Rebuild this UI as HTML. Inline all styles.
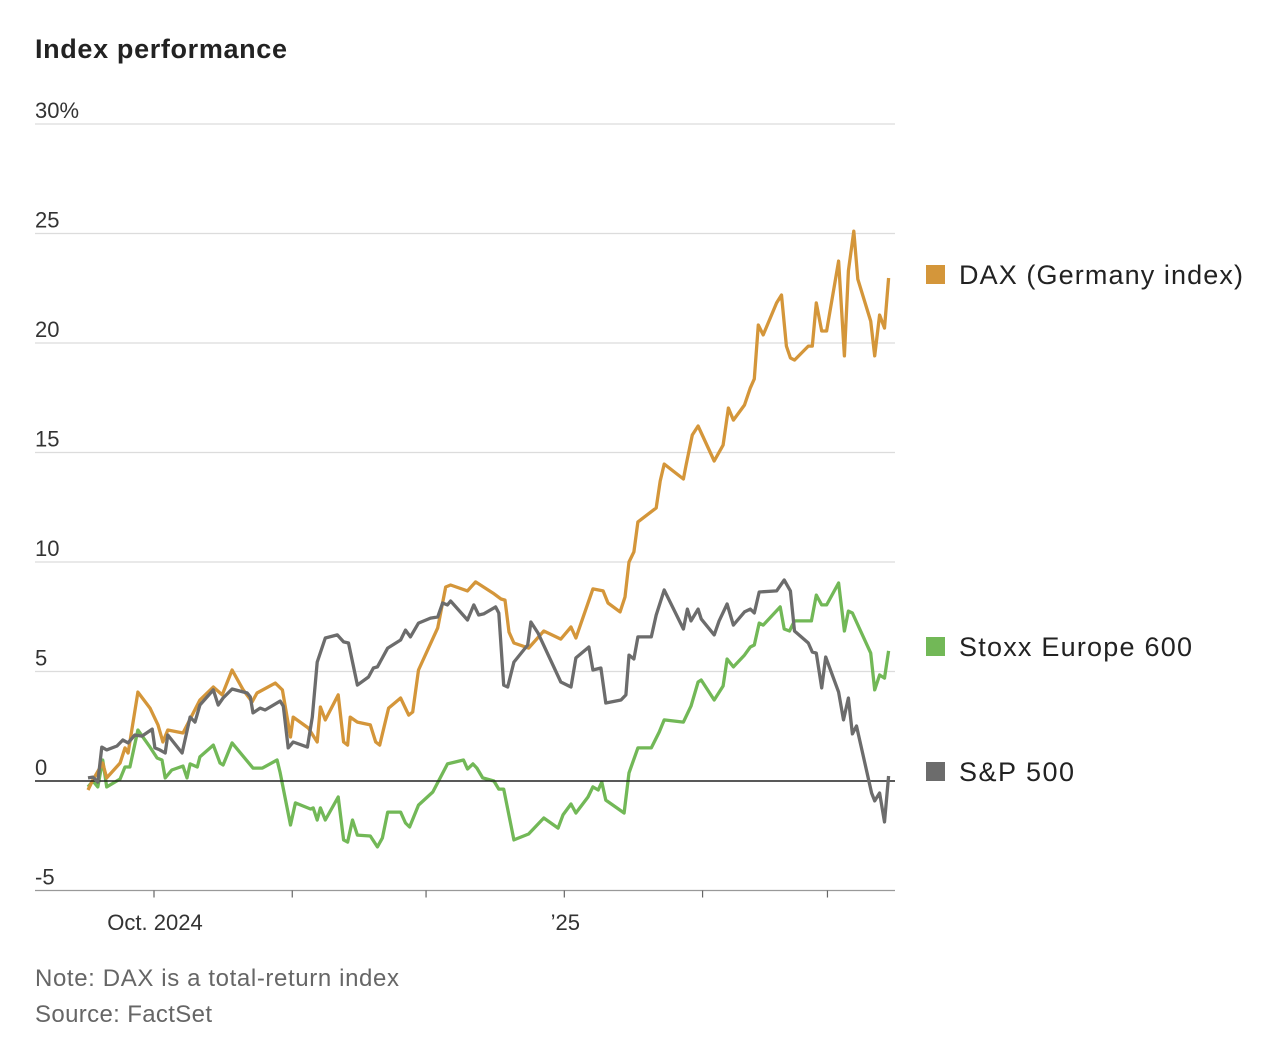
<!DOCTYPE html>
<html><head><meta charset="utf-8"><style>
body{margin:0;background:#fff;width:1276px;height:1050px;overflow:hidden;font-family:"Liberation Sans",sans-serif}
svg{position:absolute;left:0;top:0}
</style></head><body>
<svg id="c" width="1276" height="1050">
<text x="35" y="58" font-size="27" font-weight="bold" fill="#222" textLength="252">Index performance</text>
<g id="grid"></g><g id="lines"></g><g id="legend"></g>
<text x="35" y="986" font-size="24" fill="#666" textLength="364">Note: DAX is a total-return index</text>
<text x="35" y="1022" font-size="24" fill="#666" textLength="177">Source: FactSet</text>
</svg>
<script>
const yTicks=[-5,0,5,10,15,20,25,30];
const yTickLabels=["-5","0","5","10","15","20","25","30%"];
const xTickDays=[0,31,61,92,123,151];
const xTickLabels={0:"Oct. 2024",92:"\u201925"};
const daxDays=[-14.8,-13.7,-11.5,-10.6,-7.6,-6.5,-5.8,-3.6,-0.9,0.9,2.0,3.1,6.5,10.3,13.3,15.3,17.5,20.0,22.0,23.1,27.2,28.8,30.6,31.2,34.6,36.6,37.3,38.4,41.3,42.5,43.4,44.0,45.6,48.5,49.7,50.6,52.6,55.3,57.1,58.0,59.3,63.6,65.4,66.5,70.3,72.1,76.0,77.8,78.7,79.6,80.7,84.0,87.4,91.2,93.5,94.6,98.4,100.7,101.8,104.5,105.6,106.5,107.6,108.5,112.6,113.5,114.4,118.7,119.3,120.7,122.0,125.6,127.6,128.8,129.9,132.4,133.7,134.6,135.5,136.6,139.6,140.7,141.8,142.7,143.6,146.7,147.6,148.5,149.7,150.8,153.5,154.8,155.7,156.9,157.8,160.7,161.6,162.7,163.8,164.7];
const daxVals=[-0.41,0.05,0.82,0.14,0.82,1.51,1.28,4.06,3.33,2.56,1.78,2.33,2.19,3.70,4.29,3.93,5.07,4.16,3.61,4.02,4.47,4.16,2.01,2.92,2.42,1.78,3.38,2.79,3.93,1.78,1.64,2.92,2.69,2.56,1.78,1.64,3.33,3.79,3.01,3.15,5.07,6.99,8.86,8.95,8.68,9.09,8.58,8.31,8.26,6.80,6.30,6.07,6.85,6.48,7.03,6.53,8.77,8.68,8.13,7.72,8.40,10.0,10.46,11.83,12.47,13.70,14.47,13.79,14.43,15.80,16.21,14.61,15.34,17.03,16.48,17.17,17.95,18.36,20.82,20.37,21.83,22.19,19.86,19.32,19.22,19.86,19.86,21.83,20.55,20.55,23.74,19.41,23.29,25.11,22.92,21.00,19.41,21.28,20.68,22.97];
const spDays=[-14.8,-13.7,-12.6,-11.7,-10.6,-8.3,-7.0,-5.8,-4.3,-2.7,-0.4,0.2,1.3,2.5,3.1,6.3,8.1,9.2,10.3,13.3,14.4,15.5,17.5,20.9,21.6,22.2,23.8,24.9,28.3,29.0,30.1,31.2,34.4,35.5,36.6,38.4,41.1,42.5,43.6,45.6,48.1,49.2,50.1,52.4,55.3,56.4,57.5,59.3,62.0,63.6,64.7,65.8,66.5,70.3,71.7,72.8,73.9,76.6,77.3,78.4,79.3,80.7,83.8,84.5,86.1,91.2,93.5,94.6,97.5,98.4,100.2,101.3,104.7,105.8,106.5,107.6,108.5,111.5,112.6,114.4,118.7,119.6,120.4,122.0,122.7,125.6,126.7,128.5,129.9,132.4,133.7,134.6,135.7,139.6,141.3,142.7,143.6,146.7,147.6,148.5,149.7,150.6,153.5,154.6,155.7,156.6,157.5,160.9,161.6,162.7,163.8,164.7];
const spVals=[0.14,0.18,-0.05,1.55,1.42,1.60,1.87,1.74,2.10,2.05,2.37,1.51,1.42,1.28,2.10,1.28,2.92,2.69,3.47,4.16,3.47,3.79,4.20,4.02,3.84,3.11,3.33,3.24,3.65,3.42,1.51,1.78,1.55,2.92,5.43,6.53,6.67,6.35,6.30,4.38,4.75,5.16,5.21,6.07,6.44,6.89,6.58,7.21,7.44,7.49,8.13,8.04,8.22,7.35,8.04,7.58,7.63,7.95,7.67,4.38,4.29,5.43,6.21,7.26,6.76,4.52,4.29,5.62,6.12,5.07,5.16,3.56,3.70,3.93,5.75,5.57,6.58,6.58,7.58,8.72,6.94,7.85,7.31,7.85,7.40,6.67,7.31,8.08,7.12,7.72,7.85,7.67,8.63,8.68,9.18,8.68,6.85,6.30,5.89,5.84,4.25,5.66,4.06,2.79,3.79,2.15,2.51,-0.55,-0.91,-0.55,-1.87,0.23];
const stoxxDays=[-14.8,-13.7,-12.6,-11.5,-10.6,-7.6,-6.5,-5.4,-3.6,-0.9,0.7,1.8,2.5,4.0,6.5,7.4,8.1,9.7,10.3,13.3,14.8,15.5,17.5,22.2,24.3,27.6,28.3,30.6,31.7,35.1,35.7,36.6,37.3,38.4,41.3,42.5,43.4,44.5,45.6,48.5,50.1,51.2,52.4,55.3,56.4,57.3,59.3,62.5,65.8,69.4,70.3,71.5,72.4,73.7,76.2,77.3,78.4,80.7,84.0,87.4,90.6,91.7,93.5,94.6,97.3,98.4,99.6,100.4,101.3,105.4,106.5,108.5,111.5,113.3,114.4,118.7,120.4,122.0,122.7,125.6,127.6,128.5,129.9,132.4,133.7,134.6,135.7,136.6,140.4,141.3,142.5,143.6,147.4,148.5,149.7,150.8,153.5,154.8,155.7,156.6,160.7,161.6,162.7,163.8,164.7];
const stoxxVals=[-0.27,0.0,-0.27,0.96,-0.27,0.09,0.64,0.64,2.33,1.55,1.05,0.96,0.14,0.50,0.68,0.14,0.78,0.64,1.10,1.64,0.82,0.73,1.74,0.59,0.59,0.96,0.37,-2.01,-1.00,-1.28,-1.23,-1.78,-1.23,-1.78,-0.73,-2.69,-2.79,-1.78,-2.47,-2.51,-3.01,-2.60,-1.42,-1.42,-1.92,-2.10,-1.10,-0.50,0.78,0.96,0.55,0.78,0.59,0.14,0.0,-0.37,-0.37,-2.69,-2.42,-1.69,-2.15,-1.55,-1.05,-1.46,-0.73,-0.27,-0.41,-0.05,-0.87,-1.46,0.37,1.51,1.51,2.24,2.79,2.69,3.42,4.52,4.61,3.70,4.34,5.57,5.21,5.75,6.12,6.21,7.21,7.12,7.95,6.94,6.85,7.31,7.31,8.49,8.04,8.04,9.04,6.85,7.76,7.67,5.84,4.16,4.84,4.70,5.94];
const seriesNames=["DAX (Germany index)","Stoxx Europe 600","S&P 500"];

const NS="http://www.w3.org/2000/svg";
const X=d=>154+4.46*d;
const Y=v=>781-21.9*v;
function mk(tag,attrs,parent){const e=document.createElementNS(NS,tag);for(const k in attrs)e.setAttribute(k,attrs[k]);parent.appendChild(e);return e;}
const grid=document.getElementById('grid');
yTicks.forEach((t,i)=>{
  if(t!==0&&t!==-5){const l=mk('line',{x1:35,x2:895,y1:Y(t),y2:Y(t),stroke:'#dcdcdc','stroke-width':1.2},grid);
  
  }
  const tx=mk('text',{x:35,y:Y(t)-6,'font-size':22,fill:'#333'},grid);
  tx.textContent=yTickLabels[i];
  
  
});
const ax=mk('line',{x1:35,x2:895,y1:Y(-5),y2:Y(-5),stroke:'#999','stroke-width':1.2},grid);


xTickDays.forEach(d=>{
  const t=mk('line',{x1:X(d),x2:X(d),y1:Y(-5),y2:Y(-5)+7,stroke:'#666','stroke-width':1.2},grid);
  
  
  if(xTickLabels[d]){const tx=mk('text',{x:X(d)+1,y:930,'font-size':22,fill:'#333','text-anchor':'middle'},grid);
  tx.textContent=xTickLabels[d];
  
  }
});
const lines=document.getElementById('lines');
function draw(days,vals,color,name){
  const p=mk('polyline',{points:days.map((d,i)=>X(d).toFixed(1)+','+Y(vals[i]).toFixed(1)).join(' '),fill:'none',stroke:color,'stroke-width':3.3,'stroke-linejoin':'round'},lines);
  
  
}
draw(stoxxDays,stoxxVals,'#72b857','stoxx-line');
draw(daxDays,daxVals,'#d4963a','dax-line');
const z=mk('line',{x1:35,x2:895,y1:Y(0),y2:Y(0),stroke:'#222','stroke-width':1.4},lines);


draw(spDays,spVals,'#6c6c6c','sp500-line');
const lg=document.getElementById('legend');
const colors=['#d4963a','#72b857','#6c6c6c'];
const legY=[274,646,771];
const legW=[284,233,115];
seriesNames.forEach((n,i)=>{
  const r=mk('rect',{x:926,y:legY[i]-9,width:19,height:19,fill:colors[i]},lg);
  
  
  const t=mk('text',{x:959,y:legY[i]+10,'font-size':27,fill:'#222',textLength:legW[i]},lg);
  t.textContent=n;
  
  
});
</script>
</body></html>
